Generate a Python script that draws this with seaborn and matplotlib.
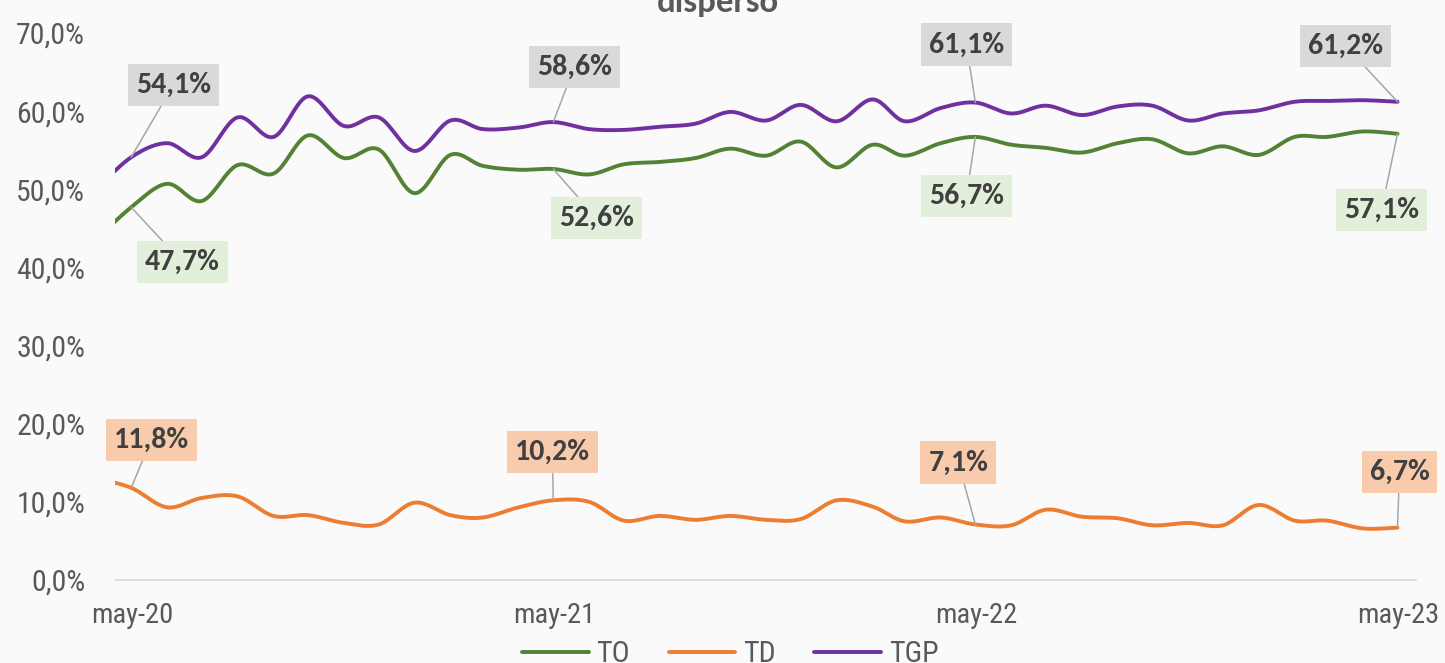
import numpy as np
import pandas as pd
import matplotlib
matplotlib.use("Agg")
import matplotlib.pyplot as plt
import matplotlib.dates as mdates
import seaborn as sns

# monthly points (mid-month), first one sits just before the axis start and gets clipped
months = pd.date_range("2020-04-01", "2023-05-01", freq="MS") + pd.Timedelta(days=14)

to_vals = [43.6, 47.7, 50.7, 48.5, 53.1, 52.0, 56.9, 54.0, 55.1, 49.5,
           54.4, 53.0, 52.5, 52.6, 51.9, 53.2, 53.5, 54.0, 55.2, 54.3,
           56.1, 52.8, 55.7, 54.3, 55.9, 56.7, 55.7, 55.3, 54.7, 55.9,
           56.4, 54.6, 55.5, 54.4, 56.7, 56.7, 57.4, 57.1]
td_vals = [13.0, 11.8, 9.3, 10.5, 10.7, 8.2, 8.3, 7.3, 7.1, 9.9,
           8.3, 8.0, 9.3, 10.2, 10.0, 7.6, 8.2, 7.7, 8.2, 7.7,
           7.8, 10.2, 9.4, 7.5, 8.0, 7.1, 7.0, 9.0, 8.1, 7.9,
           7.0, 7.3, 7.0, 9.6, 7.6, 7.6, 6.6, 6.7]
tgp_vals = [50.0, 54.1, 55.9, 54.1, 59.2, 56.7, 61.9, 58.1, 59.2, 54.9,
            58.8, 57.7, 57.9, 58.6, 57.7, 57.6, 58.0, 58.4, 59.9, 58.8,
            60.8, 58.7, 61.5, 58.7, 60.4, 61.1, 59.7, 60.7, 59.5, 60.6,
            60.7, 58.8, 59.7, 60.1, 61.2, 61.3, 61.4, 61.2]

series_names = ["TO", "TD", "TGP"]
tick_dates = ["2020-05-01", "2021-05-01", "2022-05-01", "2023-05-01"]
tick_labels = ["may-20", "may-21", "may-22", "may-23"]
label_idx = [1, 13, 25, 37]  # may of each year

colors = {"TO": "#548235", "TD": "#ED7D31", "TGP": "#7030A0"}
box_colors = {"TO": "#E2EFDA", "TD": "#F8CBAD", "TGP": "#D9D9D9"}
# label box offsets from the point, in pixels (dx, dy)
label_offsets = {
    "TGP": [(42, 72), (21, 55), (-9, 58), (-52, 56)],
    "TO": [(51, -55), (43, -49), (-9, -59), (-16, -76)],
    "TD": [(20, 48), (-1, 48), (-17, 62), (2, 56)],
}

axis_font = ["Roboto Condensed", "DejaVu Sans"]
label_font = ["Carlito", "DejaVu Sans"]


def smooth_curve(xs, ys, steps=20):
    # Excel style smoothed line: Catmull-Rom through every point
    xs = np.asarray(xs, float)
    ys = np.asarray(ys, float)
    px = np.concatenate([[xs[0]], xs, [xs[-1]]])
    py = np.concatenate([[ys[0]], ys, [ys[-1]]])
    t = np.linspace(0, 1, steps, endpoint=False)
    out_x, out_y = [], []
    for i in range(1, len(px) - 2):
        for p, out in ((px, out_x), (py, out_y)):
            p0, p1, p2, p3 = p[i - 1], p[i], p[i + 1], p[i + 2]
            out.append(0.5 * (2 * p1 + (-p0 + p2) * t
                              + (2 * p0 - 5 * p1 + 4 * p2 - p3) * t ** 2
                              + (-p0 + 3 * p1 - 3 * p2 + p3) * t ** 3))
    out_x.append([xs[-1]])
    out_y.append([ys[-1]])
    return np.concatenate(out_x), np.concatenate(out_y)


x_num = mdates.date2num(months)
values = {"TO": to_vals, "TD": td_vals, "TGP": tgp_vals}

frames = []
for name in series_names:
    sx, sy = smooth_curve(x_num, values[name])
    frames.append(pd.DataFrame({"x": sx, "valor": sy, "serie": name}))
df = pd.concat(frames, ignore_index=True)

sns.set_style("white")
plt.rcParams["font.family"] = axis_font

bg = "#FAFAFA"
fig = plt.figure(figsize=(14.45, 6.63), dpi=100, facecolor=bg)
ax = fig.add_axes([115 / 1445, 83 / 663, 1301 / 1445, 547 / 663])
ax.set_facecolor(bg)

sns.lineplot(ax=ax, data=df, x="x", y="valor", hue="serie", hue_order=series_names,
             palette=colors, sort=False, estimator=None, linewidth=2.8)

ax.set_xlim(mdates.date2num(pd.Timestamp("2020-05-01")), mdates.date2num(pd.Timestamp("2023-05-31")))
ax.set_ylim(0, 70)
ax.set_xlabel("")
ax.set_ylabel("")

ax.set_yticks(np.arange(0, 71, 10))
ax.set_yticklabels([f"{v:.1f}%".replace(".", ",") for v in np.arange(0, 71, 10)])
ax.tick_params(axis="y", length=0, pad=21.5, labelsize=21.5, labelcolor="#595959")

# tick marks at the start of may, labels centred on mid-may
major = mdates.date2num(pd.to_datetime(tick_dates))
ax.set_xticks(major)
ax.set_xticklabels([])
ax.set_xticks(major + 15, minor=True)
ax.set_xticklabels(tick_labels, minor=True)
ax.tick_params(axis="x", which="major", length=6.5, width=1.1, color="#D9D9D9")
ax.tick_params(axis="x", which="minor", length=0, pad=16, labelsize=20.5, labelcolor="#595959")

for side in ["top", "right", "left"]:
    ax.spines[side].set_visible(False)
ax.spines["bottom"].set_color("#D9D9D9")
ax.spines["bottom"].set_linewidth(1.1)
ax.grid(False)

# data labels
for name in series_names:
    for idx, (dx, dy) in zip(label_idx, label_offsets[name]):
        v = values[name][idx]
        ax.annotate(f"{v:.1f}%".replace(".", ","), xy=(x_num[idx], v), xytext=(dx, dy),
                    textcoords="offset pixels", ha="center", va="center",
                    fontsize=21.5, fontweight="bold", family=label_font, color="#404040",
                    bbox=dict(boxstyle="square,pad=0.27", fc=box_colors[name], ec="none"),
                    arrowprops=dict(arrowstyle="-", color="#A6A6A6", lw=1.1, shrinkA=0, shrinkB=0),
                    annotation_clip=False, zorder=5)

# title, cut by the top edge as in the source
fig.text(718 / 1445, 651 / 663, "disperso", ha="center", va="baseline",
         fontsize=25, fontweight="bold", family=label_font, color="#595959")

handles, labels = ax.get_legend_handles_labels()
ax.get_legend().remove()
fig.legend(handles, labels, loc="center", bbox_to_anchor=(730 / 1445, 9 / 663), ncol=3,
           frameon=False, fontsize=21.5, labelcolor="#595959", handlelength=2.24,
           handletextpad=0.25, columnspacing=1.3)

plt.savefig("out.png", dpi=100, facecolor=bg)
